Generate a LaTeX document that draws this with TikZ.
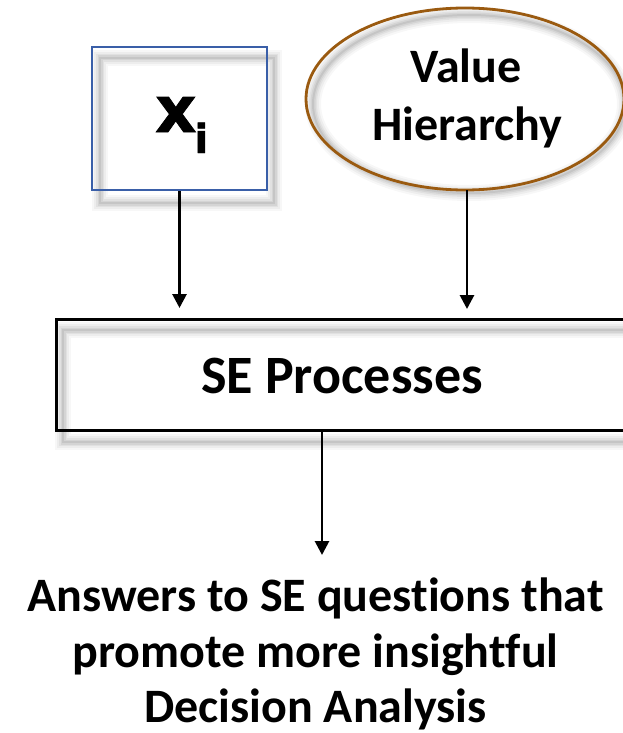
\documentclass[tikz,border=0pt]{standalone}
\usepackage{fontspec}
\setmainfont{Carlito}[RawFeature={-liga}]
\newfontfamily\symfont{DejaVu Sans}[BoldFeatures={FakeBold=1.2}]
\usetikzlibrary{arrows.meta,shapes.geometric}
\definecolor{boxblue}{HTML}{3A5FA8}
\definecolor{ovalbrown}{HTML}{9A5A10}
\tikzset{
  link/.style={draw=black, line width=2.8pt, -{Triangle[width=14pt,length=14pt]}},
  labeltext/.style={font=\bfseries\fontsize{48}{57}\selectfont, inner sep=0pt, anchor=base}
}
\newcommand{\blurshadow}[1]{%
  \foreach \w/\o in {16/0.03,12/0.04,8/0.05,5/0.06,2/0.07}{%
    \path[draw=black, draw opacity=\o, line width=\w pt] #1;}}
\begin{document}
\begin{tikzpicture}[x=1pt,y=-1pt]
  \useasboundingbox (0,0) rectangle (623,733);

  % soft shadows behind the shapes
  \blurshadow{(100,58) rectangle (274,203)}
  \blurshadow{(469,104) ellipse [x radius=156, y radius=89]}
  \blurshadow{(63,330) rectangle (640,442)}

  % input box
  \node[draw=boxblue, line width=2.8pt, minimum width=175pt, minimum height=143pt, inner sep=0pt]
    (xi) at (179.5,118.5) {};
  \node[inner sep=0pt, anchor=base west] (xlabel) at (155,132)
    {\symfont\bfseries\fontsize{64}{68}\selectfont x\kern-2pt\raisebox{-21pt}{\fontsize{40}{44}\selectfont i}};

  % value hierarchy oval
  \node[ellipse, draw=ovalbrown, line width=2.8pt, minimum width=318pt, minimum height=182pt, inner sep=0pt]
    (vh) at (465,99) {};
  \node[labeltext] (vh1) at (466,83) {Value};
  \node[labeltext] (vh2) at (467.5,140) {Hierarchy};

  % process box
  \node[draw=black, line width=3pt, minimum width=580pt, minimum height=111pt, inner sep=0pt, anchor=north west]
    (se) at (55,318) {};
  \node[labeltext, font=\bfseries\fontsize{54}{60}\selectfont] (selabel) at (342,393) {SE Processes};

  % outcome text
  \node[labeltext] (out1) at (315.5,611) {Answers to SE questions that};
  \node[labeltext] (out2) at (315.5,667) {promote more insightful};
  \node[labeltext] (out3) at (315.5,722) {Decision Analysis};

  % connectors
  \coordinate (vhfoot) at (467,190);
  \draw[link] (xi.south) -- ([yshift=10pt]xi.south |- se.north);
  \draw[link] (vhfoot) -- ([yshift=9pt]vhfoot |- se.north);
  \coordinate (outtop) at (322,555);
  \draw[link] (se.south -| outtop) -- (outtop);
\end{tikzpicture}
\end{document}
